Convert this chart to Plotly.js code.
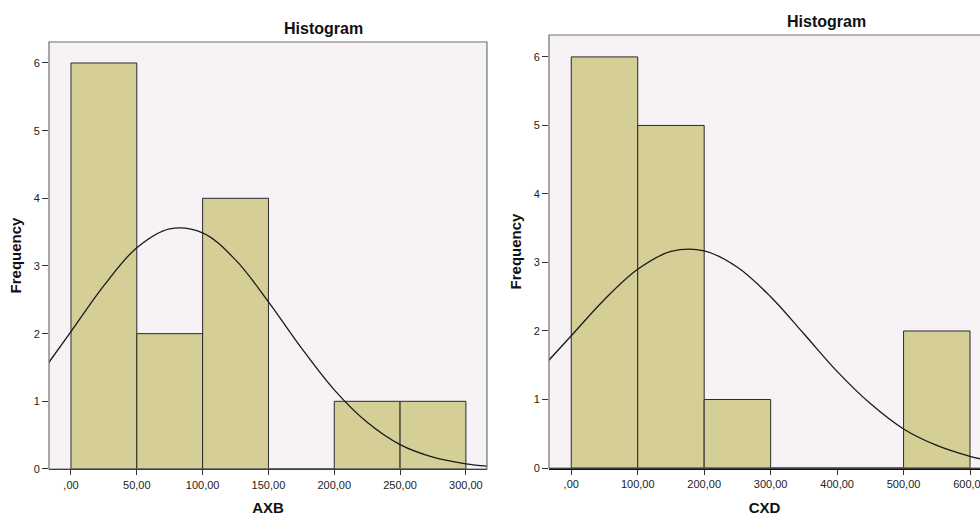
<!DOCTYPE html>
<html>
<head>
<meta charset="utf-8">
<script src="https://cdn.plot.ly/plotly-3.0.1.min.js"></script>
<style>html,body{margin:0;padding:0;background:#fff;}#chart{width:980px;height:516px;}</style>
</head>
<body>
<div id="chart"></div>
<script>
// Left histogram (AXB)
const axbBinStarts = [0, 50, 100, 150, 200, 250];
const axbBinWidth = 50;
const axbCounts = [6, 2, 4, 0, 1, 1];
const axbCurveX = [-17, 0, 25, 50, 75, 100, 125, 150, 175, 200, 225, 250, 275, 300, 316];
const axbCurveY = [1.57, 2.03, 2.71, 3.27, 3.55, 3.49, 3.09, 2.47, 1.79, 1.17, 0.69, 0.36, 0.175, 0.076, 0.042];
const axbTickVals = [0, 50, 100, 150, 200, 250, 300];
const axbTickText = [",00", "50,00", "100,00", "150,00", "200,00", "250,00", "300,00"];

// Right histogram (CXD)
const cxdBinStarts = [0, 100, 200, 300, 400, 500];
const cxdBinWidth = 100;
const cxdCounts = [6, 5, 1, 0, 0, 2];
const cxdCurveX = [-34, 0, 50, 100, 150, 200, 250, 300, 350, 400, 450, 500, 550, 600, 615];
const cxdCurveY = [1.57, 1.93, 2.46, 2.90, 3.16, 3.17, 2.93, 2.50, 1.96, 1.41, 0.94, 0.57, 0.33, 0.17, 0.135];
const cxdTickVals = [0, 100, 200, 300, 400, 500, 600];
const cxdTickText = [",00", "100,00", "200,00", "300,00", "400,00", "500,00", "600,00"];

const yTickVals = [0, 1, 2, 3, 4, 5, 6];
const yTickText = ["0", "1", "2", "3", "4", "5", "6"];

const barColor = '#D5CE96';
const barLine = '#2a2a2a';
const bgColor = '#F6F2F6';
const fontFam = 'Liberation Sans, Arial, sans-serif';

const traces = [
  {type: 'bar', x: axbBinStarts, y: axbCounts, width: axbBinWidth, offset: 0,
   marker: {color: barColor, line: {color: barLine, width: 1}}, xaxis: 'x', yaxis: 'y', hoverinfo: 'x+y'},
  {type: 'scatter', mode: 'lines', x: axbCurveX, y: axbCurveY, line: {color: '#1a1a1a', width: 1.3, shape: 'spline'},
   xaxis: 'x', yaxis: 'y'},
  {type: 'bar', x: cxdBinStarts, y: cxdCounts, width: cxdBinWidth, offset: 0,
   marker: {color: barColor, line: {color: barLine, width: 1}}, xaxis: 'x2', yaxis: 'y2', hoverinfo: 'x+y'},
  {type: 'scatter', mode: 'lines', x: cxdCurveX, y: cxdCurveY, line: {color: '#1a1a1a', width: 1.3, shape: 'spline'},
   xaxis: 'x2', yaxis: 'y2'}
];

function xAxis(domain, range, vals, text, title, anchor) {
  return {domain: domain, range: range, anchor: anchor, tickmode: 'array', tickvals: vals, ticktext: text,
    ticks: 'outside', ticklen: 5, tickcolor: '#333', tickwidth: 1, showgrid: false, zeroline: false,
    showline: true, linecolor: '#111', linewidth: 1.5, ticklabeloverflow: 'allow',
    tickfont: {family: fontFam, size: 11, color: '#222'},
    title: {text: title, font: {family: fontFam, size: 15, color: '#111', weight: 'bold'}, standoff: 14}};
}
function yAxis(domain, range, anchor) {
  return {domain: domain, range: range, anchor: anchor, tickmode: 'array', tickvals: yTickVals, ticktext: yTickText,
    ticks: 'outside', ticklen: 6, tickcolor: '#333', tickwidth: 1, showgrid: false, zeroline: false,
    showline: false,
    tickfont: {family: fontFam, size: 11, color: '#222'},
    title: {text: 'Frequency', font: {family: fontFam, size: 15, color: '#111', weight: 'bold'}, standoff: 8}};
}

const layout = {
  width: 980, height: 516,
  margin: {l: 0, r: 0, t: 0, b: 0},
  paper_bgcolor: '#ffffff',
  plot_bgcolor: bgColor,
  showlegend: false,
  bargap: 0,
  xaxis: xAxis([0.05, 0.4969], [-16.7, 316], axbTickVals, axbTickText, 'AXB', 'y'),
  yaxis: yAxis([0.0911, 0.9186], [0, 6.31], 'x'),
  xaxis2: xAxis([0.5602, 1], [-33.5, 615], cxdTickVals, cxdTickText, 'CXD', 'y2'),
  yaxis2: yAxis([0.093, 0.9322], [0, 6.32], 'x2'),
  shapes: [
    {type: 'rect', xref: 'x domain', yref: 'y domain', x0: 0, x1: 1, y0: 0, y1: 1,
     line: {color: '#707070', width: 1.2}, fillcolor: 'rgba(0,0,0,0)', layer: 'above'},
    {type: 'rect', xref: 'x2 domain', yref: 'y2 domain', x0: 0, x1: 1.05, y0: 0, y1: 1,
     line: {color: '#707070', width: 1.2}, fillcolor: 'rgba(0,0,0,0)', layer: 'above'}
  ],
  annotations: [
    {text: 'Histogram', xref: 'paper', yref: 'paper', x: 323/980, y: 1 - 29/516, xanchor: 'center', yanchor: 'middle',
     showarrow: false, font: {family: fontFam, size: 16, color: '#111', weight: 'bold'}},
    {text: 'Histogram', xref: 'paper', yref: 'paper', x: 826/980, y: 1 - 22/516, xanchor: 'center', yanchor: 'middle',
     showarrow: false, font: {family: fontFam, size: 16, color: '#111', weight: 'bold'}}
  ]
};

Plotly.newPlot('chart', traces, layout, {displayModeBar: false, staticPlot: true});
</script>
</body>
</html>
